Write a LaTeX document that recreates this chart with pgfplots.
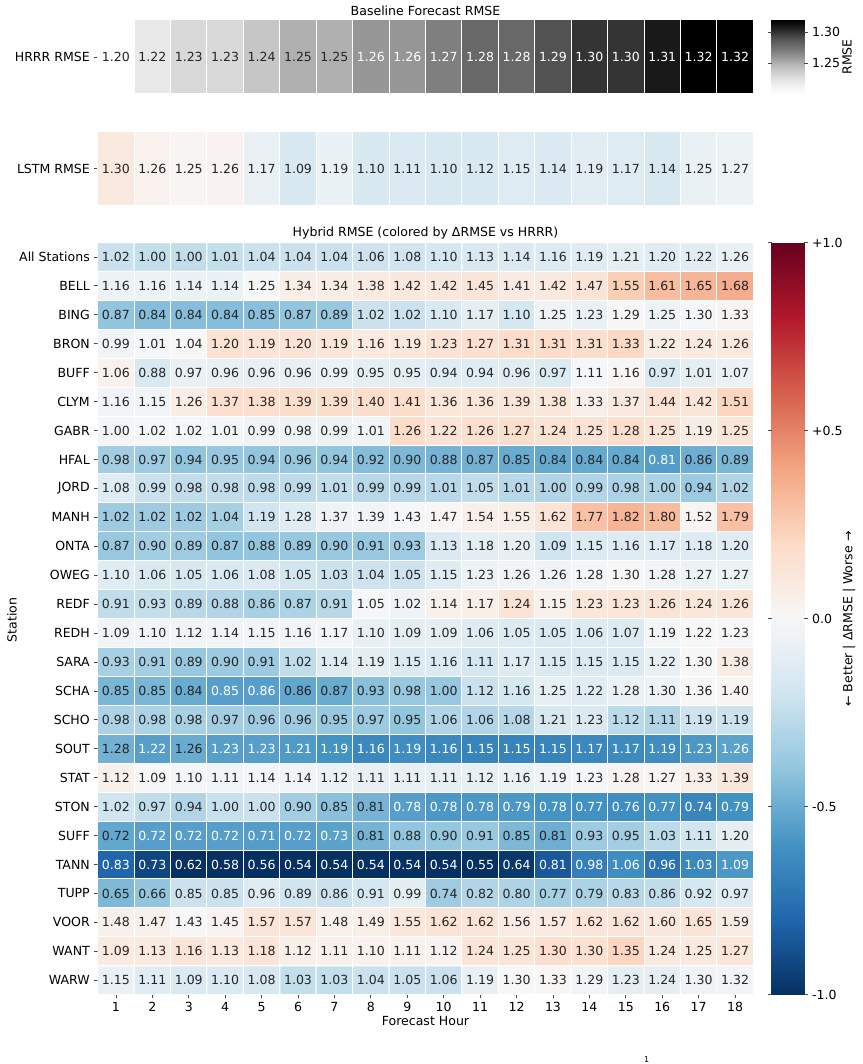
\documentclass[border=0pt]{standalone}
\usepackage{fontspec}
\setmainfont{DejaVu Sans}
\usepackage{pgfplots}
\usepackage{pgfplotstable}
\pgfplotsset{compat=1.18}
\definecolor{txt}{RGB}{38,38,38}
\definecolor{tickc}{RGB}{70,70,70}
\pgfplotsset{
  /pgf/number format/assume math mode=true,
  colormap={rdbu}{rgb255(0cm)=(5,48,97) rgb255(1cm)=(33,102,172) rgb255(2cm)=(67,147,195) rgb255(3cm)=(146,197,222) rgb255(4cm)=(209,229,240) rgb255(5cm)=(247,247,247) rgb255(6cm)=(253,219,199) rgb255(7cm)=(244,165,130) rgb255(8cm)=(214,96,77) rgb255(9cm)=(178,24,43) rgb255(10cm)=(103,0,31)},
  colormap={greys}{rgb255(0cm)=(255,255,255) rgb255(1cm)=(240,240,240) rgb255(2cm)=(217,217,217) rgb255(3cm)=(189,189,189) rgb255(4cm)=(150,150,150) rgb255(5cm)=(115,115,115) rgb255(6cm)=(82,82,82) rgb255(7cm)=(37,37,37) rgb255(8cm)=(0,0,0)},
  hm/.style={scale only axis, width=491.7pt, xmin=0.5, xmax=18.5, enlargelimits=false,
    axis line style={draw=none}, tick align=outside, major tick length=2.6pt,
    tick style={color=tickc, line width=0.6pt}, xtick pos=bottom, ytick pos=left,
    yticklabel style={text=black}, xticklabel style={text=black}},
  cb/.style={at={(parent axis.north east)}, anchor=north west, xshift=13.8pt, width=24.45pt,
    scale only axis, axis line style={draw=none}, tick align=outside, major tick length=2.6pt,
    tick style={color=tickc, line width=0.6pt}, yticklabel style={text=black}},
  lab/.style={only marks, mark=none, point meta=explicit symbolic, nodes near coords,
    unbounded coords=discard,
    every node near coord/.append style={anchor=center, inner sep=0pt, text=#1}},
}
\pgfdeclareplotmark{hcell}{\pgfpathrectangle{\pgfpoint{-13.66pt}{-27.75pt}}{\pgfpoint{27.32pt}{55.5pt}}\pgfusepathqfillstroke}

\pgfplotstableread[row sep=\\]{
x y v\\
1 0 1.20\\ 2 0 1.22\\ 3 0 1.23\\ 4 0 1.23\\ 5 0 1.24\\ 6 0 1.25\\ 7 0 1.25\\ 8 0 1.26\\ 9 0 1.26\\ 10 0 1.27\\ 11 0 1.28\\ 12 0 1.28\\ 13 0 1.29\\ 14 0 1.30\\ 15 0 1.30\\ 16 0 1.31\\ 17 0 1.32\\ 18 0 1.32\\
}\hrrr

\pgfplotstableread[row sep=\\]{
x y v d\\
1 0 1.30 0.10\\ 2 0 1.26 0.04\\ 3 0 1.25 0.02\\ 4 0 1.26 0.03\\ 5 0 1.17 -0.07\\ 6 0 1.09 -0.16\\ 7 0 1.19 -0.06\\ 8 0 1.10 -0.16\\ 9 0 1.11 -0.15\\ 10 0 1.10 -0.17\\ 11 0 1.12 -0.16\\ 12 0 1.15 -0.13\\ 13 0 1.14 -0.15\\ 14 0 1.19 -0.11\\ 15 0 1.17 -0.13\\ 16 0 1.14 -0.17\\ 17 0 1.25 -0.07\\ 18 0 1.27 -0.05\\
}\lstm

\pgfplotstableread[row sep=\\]{
x y v d\\
1 0 1.02 -0.22\\ 2 0 1.00 -0.24\\ 3 0 1.00 -0.25\\ 4 0 1.01 -0.24\\ 5 0 1.04 -0.22\\ 6 0 1.04 -0.22\\ 7 0 1.04 -0.22\\ 8 0 1.06 -0.21\\ 9 0 1.08 -0.20\\ 10 0 1.10 -0.18\\ 11 0 1.13 -0.16\\ 12 0 1.14 -0.15\\ 13 0 1.16 -0.14\\ 14 0 1.19 -0.12\\ 15 0 1.21 -0.10\\ 16 0 1.20 -0.12\\ 17 0 1.22 -0.11\\ 18 0 1.26 -0.07\\
1 1 1.16 -0.05\\ 2 1 1.16 -0.05\\ 3 1 1.14 -0.06\\ 4 1 1.14 -0.06\\ 5 1 1.25 0.00\\ 6 1 1.34 0.07\\ 7 1 1.34 0.07\\ 8 1 1.38 0.09\\ 9 1 1.42 0.11\\ 10 1 1.42 0.11\\ 11 1 1.45 0.13\\ 12 1 1.41 0.09\\ 13 1 1.42 0.10\\ 14 1 1.47 0.14\\ 15 1 1.55 0.25\\ 16 1 1.61 0.31\\ 17 1 1.65 0.34\\ 18 1 1.68 0.37\\
1 2 0.87 -0.40\\ 2 2 0.84 -0.43\\ 3 2 0.84 -0.43\\ 4 2 0.84 -0.43\\ 5 2 0.85 -0.42\\ 6 2 0.87 -0.40\\ 7 2 0.89 -0.38\\ 8 2 1.02 -0.22\\ 9 2 1.02 -0.22\\ 10 2 1.10 -0.16\\ 11 2 1.17 -0.10\\ 12 2 1.10 -0.18\\ 13 2 1.25 -0.04\\ 14 2 1.23 -0.07\\ 15 2 1.29 0.00\\ 16 2 1.25 -0.05\\ 17 2 1.30 -0.01\\ 18 2 1.33 0.02\\
1 3 0.99 -0.03\\ 2 3 1.01 -0.01\\ 3 3 1.04 0.00\\ 4 3 1.20 0.15\\ 5 3 1.19 0.13\\ 6 3 1.20 0.14\\ 7 3 1.19 0.12\\ 8 3 1.16 0.09\\ 9 3 1.19 0.11\\ 10 3 1.23 0.14\\ 11 3 1.27 0.16\\ 12 3 1.31 0.19\\ 13 3 1.31 0.19\\ 14 3 1.31 0.18\\ 15 3 1.33 0.21\\ 16 3 1.22 0.08\\ 17 3 1.24 0.09\\ 18 3 1.26 0.10\\
1 4 1.06 0.04\\ 2 4 0.88 -0.16\\ 3 4 0.97 -0.07\\ 4 4 0.96 -0.08\\ 5 4 0.96 -0.08\\ 6 4 0.96 -0.08\\ 7 4 0.99 -0.06\\ 8 4 0.95 -0.10\\ 9 4 0.95 -0.10\\ 10 4 0.94 -0.12\\ 11 4 0.94 -0.12\\ 12 4 0.96 -0.11\\ 13 4 0.97 -0.14\\ 14 4 1.11 -0.01\\ 15 4 1.16 0.01\\ 16 4 0.97 -0.15\\ 17 4 1.01 -0.10\\ 18 4 1.07 -0.06\\
1 5 1.16 -0.03\\ 2 5 1.15 -0.03\\ 3 5 1.26 0.07\\ 4 5 1.37 0.17\\ 5 5 1.38 0.17\\ 6 5 1.39 0.18\\ 7 5 1.39 0.18\\ 8 5 1.40 0.18\\ 9 5 1.41 0.18\\ 10 5 1.36 0.12\\ 11 5 1.36 0.12\\ 12 5 1.39 0.13\\ 13 5 1.38 0.12\\ 14 5 1.33 0.06\\ 15 5 1.37 0.10\\ 16 5 1.44 0.15\\ 17 5 1.42 0.13\\ 18 5 1.51 0.22\\
1 6 1.00 -0.02\\ 2 6 1.02 -0.01\\ 3 6 1.02 -0.01\\ 4 6 1.01 -0.02\\ 5 6 0.99 -0.04\\ 6 6 0.98 -0.05\\ 7 6 0.99 -0.05\\ 8 6 1.01 -0.03\\ 9 6 1.26 0.19\\ 10 6 1.22 0.14\\ 11 6 1.26 0.17\\ 12 6 1.27 0.18\\ 13 6 1.24 0.15\\ 14 6 1.25 0.15\\ 15 6 1.28 0.18\\ 16 6 1.25 0.14\\ 17 6 1.19 0.08\\ 18 6 1.25 0.13\\
1 7 0.98 -0.35\\ 2 7 0.97 -0.36\\ 3 7 0.94 -0.40\\ 4 7 0.95 -0.38\\ 5 7 0.94 -0.40\\ 6 7 0.96 -0.38\\ 7 7 0.94 -0.40\\ 8 7 0.92 -0.43\\ 9 7 0.90 -0.45\\ 10 7 0.88 -0.47\\ 11 7 0.87 -0.48\\ 12 7 0.85 -0.50\\ 13 7 0.84 -0.51\\ 14 7 0.84 -0.51\\ 15 7 0.84 -0.51\\ 16 7 0.81 -0.56\\ 17 7 0.86 -0.49\\ 18 7 0.89 -0.46\\
1 8 1.08 -0.12\\ 2 8 0.99 -0.22\\ 3 8 0.98 -0.25\\ 4 8 0.98 -0.25\\ 5 8 0.98 -0.26\\ 6 8 0.99 -0.26\\ 7 8 1.01 -0.25\\ 8 8 0.99 -0.28\\ 9 8 0.99 -0.28\\ 10 8 1.01 -0.28\\ 11 8 1.05 -0.25\\ 12 8 1.01 -0.28\\ 13 8 1.00 -0.30\\ 14 8 0.99 -0.30\\ 15 8 0.98 -0.32\\ 16 8 1.00 -0.32\\ 17 8 0.94 -0.37\\ 18 8 1.02 -0.30\\
1 9 1.02 -0.36\\ 2 9 1.02 -0.36\\ 3 9 1.02 -0.36\\ 4 9 1.04 -0.34\\ 5 9 1.19 -0.20\\ 6 9 1.28 -0.12\\ 7 9 1.37 -0.04\\ 8 9 1.39 -0.03\\ 9 9 1.43 -0.01\\ 10 9 1.47 0.01\\ 11 9 1.54 0.06\\ 12 9 1.55 0.07\\ 13 9 1.62 0.14\\ 14 9 1.77 0.30\\ 15 9 1.82 0.34\\ 16 9 1.80 0.32\\ 17 9 1.52 0.02\\ 18 9 1.79 0.30\\
1 10 0.87 -0.38\\ 2 10 0.90 -0.35\\ 3 10 0.89 -0.36\\ 4 10 0.87 -0.40\\ 5 10 0.88 -0.40\\ 6 10 0.89 -0.38\\ 7 10 0.90 -0.38\\ 8 10 0.91 -0.38\\ 9 10 0.93 -0.36\\ 10 10 1.13 -0.15\\ 11 10 1.18 -0.10\\ 12 10 1.20 -0.09\\ 13 10 1.09 -0.20\\ 14 10 1.15 -0.14\\ 15 10 1.16 -0.13\\ 16 10 1.17 -0.13\\ 17 10 1.18 -0.13\\ 18 10 1.20 -0.12\\
1 11 1.10 -0.12\\ 2 11 1.06 -0.16\\ 3 11 1.05 -0.17\\ 4 11 1.06 -0.16\\ 5 11 1.08 -0.15\\ 6 11 1.05 -0.19\\ 7 11 1.03 -0.22\\ 8 11 1.04 -0.21\\ 9 11 1.05 -0.21\\ 10 11 1.15 -0.12\\ 11 11 1.23 -0.05\\ 12 11 1.26 -0.03\\ 13 11 1.26 -0.04\\ 14 11 1.28 -0.02\\ 15 11 1.30 0.00\\ 16 11 1.28 -0.03\\ 17 11 1.27 -0.05\\ 18 11 1.27 -0.05\\
1 12 0.91 -0.25\\ 2 12 0.93 -0.24\\ 3 12 0.89 -0.28\\ 4 12 0.88 -0.30\\ 5 12 0.86 -0.33\\ 6 12 0.87 -0.32\\ 7 12 0.91 -0.28\\ 8 12 1.05 -0.01\\ 9 12 1.02 -0.04\\ 10 12 1.14 0.05\\ 11 12 1.17 0.06\\ 12 12 1.24 0.14\\ 13 12 1.15 0.05\\ 14 12 1.23 0.12\\ 15 12 1.23 0.12\\ 16 12 1.26 0.14\\ 17 12 1.24 0.12\\ 18 12 1.26 0.13\\
1 13 1.09 -0.03\\ 2 13 1.10 -0.03\\ 3 13 1.12 -0.03\\ 4 13 1.14 -0.03\\ 5 13 1.15 -0.03\\ 6 13 1.16 -0.03\\ 7 13 1.17 -0.02\\ 8 13 1.10 -0.08\\ 9 13 1.09 -0.10\\ 10 13 1.09 -0.10\\ 11 13 1.06 -0.13\\ 12 13 1.05 -0.14\\ 13 13 1.05 -0.15\\ 14 13 1.06 -0.14\\ 15 13 1.07 -0.14\\ 16 13 1.19 -0.02\\ 17 13 1.22 0.00\\ 18 13 1.23 0.00\\
1 14 0.93 -0.33\\ 2 14 0.91 -0.35\\ 3 14 0.89 -0.38\\ 4 14 0.90 -0.37\\ 5 14 0.91 -0.37\\ 6 14 1.02 -0.25\\ 7 14 1.14 -0.13\\ 8 14 1.19 -0.10\\ 9 14 1.15 -0.14\\ 10 14 1.16 -0.14\\ 11 14 1.11 -0.18\\ 12 14 1.17 -0.13\\ 13 14 1.15 -0.15\\ 14 14 1.15 -0.15\\ 15 14 1.15 -0.15\\ 16 14 1.22 -0.08\\ 17 14 1.30 0.00\\ 18 14 1.38 0.08\\
1 15 0.85 -0.46\\ 2 15 0.85 -0.46\\ 3 15 0.84 -0.50\\ 4 15 0.85 -0.55\\ 5 15 0.86 -0.55\\ 6 15 0.86 -0.52\\ 7 15 0.87 -0.50\\ 8 15 0.93 -0.42\\ 9 15 0.98 -0.38\\ 10 15 1.00 -0.38\\ 11 15 1.12 -0.22\\ 12 15 1.16 -0.18\\ 13 15 1.25 -0.09\\ 14 15 1.22 -0.12\\ 15 15 1.28 -0.06\\ 16 15 1.30 -0.04\\ 17 15 1.36 0.00\\ 18 15 1.40 0.02\\
1 16 0.98 -0.32\\ 2 16 0.98 -0.32\\ 3 16 0.98 -0.33\\ 4 16 0.97 -0.35\\ 5 16 0.96 -0.36\\ 6 16 0.96 -0.36\\ 7 16 0.95 -0.38\\ 8 16 0.97 -0.37\\ 9 16 0.95 -0.40\\ 10 16 1.06 -0.30\\ 11 16 1.06 -0.30\\ 12 16 1.08 -0.29\\ 13 16 1.21 -0.17\\ 14 16 1.23 -0.15\\ 15 16 1.12 -0.27\\ 16 16 1.11 -0.30\\ 17 16 1.19 -0.21\\ 18 16 1.19 -0.21\\
1 17 1.28 -0.48\\ 2 17 1.22 -0.55\\ 3 17 1.26 -0.50\\ 4 17 1.23 -0.55\\ 5 17 1.23 -0.55\\ 6 17 1.21 -0.57\\ 7 17 1.19 -0.60\\ 8 17 1.16 -0.65\\ 9 17 1.19 -0.62\\ 10 17 1.16 -0.65\\ 11 17 1.15 -0.67\\ 12 17 1.15 -0.67\\ 13 17 1.15 -0.67\\ 14 17 1.17 -0.65\\ 15 17 1.17 -0.64\\ 16 17 1.19 -0.62\\ 17 17 1.23 -0.58\\ 18 17 1.26 -0.54\\
1 18 1.12 0.05\\ 2 18 1.09 0.00\\ 3 18 1.10 -0.02\\ 4 18 1.11 -0.03\\ 5 18 1.14 -0.02\\ 6 18 1.14 -0.03\\ 7 18 1.12 -0.06\\ 8 18 1.11 -0.08\\ 9 18 1.11 -0.08\\ 10 18 1.11 -0.09\\ 11 18 1.12 -0.09\\ 12 18 1.16 -0.06\\ 13 18 1.19 -0.04\\ 14 18 1.23 -0.01\\ 15 18 1.28 0.03\\ 16 18 1.27 0.01\\ 17 18 1.33 0.06\\ 18 18 1.39 0.11\\
1 19 1.02 -0.20\\ 2 19 0.97 -0.25\\ 3 19 0.94 -0.30\\ 4 19 1.00 -0.23\\ 5 19 1.00 -0.22\\ 6 19 0.90 -0.35\\ 7 19 0.85 -0.42\\ 8 19 0.81 -0.47\\ 9 19 0.78 -0.55\\ 10 19 0.78 -0.58\\ 11 19 0.78 -0.58\\ 12 19 0.79 -0.58\\ 13 19 0.78 -0.60\\ 14 19 0.77 -0.61\\ 15 19 0.76 -0.62\\ 16 19 0.77 -0.61\\ 17 19 0.74 -0.66\\ 18 19 0.79 -0.61\\
1 20 0.72 -0.52\\ 2 20 0.72 -0.55\\ 3 20 0.72 -0.55\\ 4 20 0.72 -0.55\\ 5 20 0.71 -0.56\\ 6 20 0.72 -0.55\\ 7 20 0.73 -0.54\\ 8 20 0.81 -0.47\\ 9 20 0.88 -0.40\\ 10 20 0.90 -0.39\\ 11 20 0.91 -0.38\\ 12 20 0.85 -0.45\\ 13 20 0.81 -0.49\\ 14 20 0.93 -0.36\\ 15 20 0.95 -0.35\\ 16 20 1.03 -0.27\\ 17 20 1.11 -0.20\\ 18 20 1.20 -0.10\\
1 21 0.83 -0.80\\ 2 21 0.73 -0.92\\ 3 21 0.62 -1.00\\ 4 21 0.58 -1.00\\ 5 21 0.56 -1.00\\ 6 21 0.54 -1.00\\ 7 21 0.54 -1.00\\ 8 21 0.54 -1.00\\ 9 21 0.54 -1.00\\ 10 21 0.54 -1.00\\ 11 21 0.55 -1.00\\ 12 21 0.64 -0.97\\ 13 21 0.81 -0.85\\ 14 21 0.98 -0.69\\ 15 21 1.06 -0.62\\ 16 21 0.96 -0.74\\ 17 21 1.03 -0.65\\ 18 21 1.09 -0.58\\
1 22 0.65 -0.45\\ 2 22 0.66 -0.40\\ 3 22 0.85 -0.22\\ 4 22 0.85 -0.22\\ 5 22 0.96 -0.13\\ 6 22 0.89 -0.20\\ 7 22 0.86 -0.22\\ 8 22 0.91 -0.18\\ 9 22 0.99 -0.10\\ 10 22 0.74 -0.36\\ 11 22 0.82 -0.30\\ 12 22 0.80 -0.31\\ 13 22 0.77 -0.34\\ 14 22 0.79 -0.32\\ 15 22 0.83 -0.28\\ 16 22 0.86 -0.25\\ 17 22 0.92 -0.18\\ 18 22 0.97 -0.13\\
1 23 1.48 0.05\\ 2 23 1.47 0.05\\ 3 23 1.43 0.00\\ 4 23 1.45 0.03\\ 5 23 1.57 0.13\\ 6 23 1.57 0.13\\ 7 23 1.48 0.05\\ 8 23 1.49 0.06\\ 9 23 1.55 0.11\\ 10 23 1.62 0.14\\ 11 23 1.62 0.13\\ 12 23 1.56 0.08\\ 13 23 1.57 0.09\\ 14 23 1.62 0.13\\ 15 23 1.62 0.13\\ 16 23 1.60 0.11\\ 17 23 1.65 0.14\\ 18 23 1.59 0.08\\
1 24 1.09 0.09\\ 2 24 1.13 0.10\\ 3 24 1.16 0.13\\ 4 24 1.13 0.10\\ 5 24 1.18 0.13\\ 6 24 1.12 0.06\\ 7 24 1.11 0.05\\ 8 24 1.10 0.04\\ 9 24 1.11 0.04\\ 10 24 1.12 0.03\\ 11 24 1.24 0.13\\ 12 24 1.25 0.13\\ 13 24 1.30 0.17\\ 14 24 1.30 0.16\\ 15 24 1.35 0.22\\ 16 24 1.24 0.10\\ 17 24 1.25 0.10\\ 18 24 1.27 0.12\\
1 25 1.15 -0.07\\ 2 25 1.11 -0.12\\ 3 25 1.09 -0.15\\ 4 25 1.10 -0.15\\ 5 25 1.08 -0.17\\ 6 25 1.03 -0.24\\ 7 25 1.03 -0.24\\ 8 25 1.04 -0.22\\ 9 25 1.05 -0.22\\ 10 25 1.06 -0.22\\ 11 25 1.19 -0.08\\ 12 25 1.30 0.00\\ 13 25 1.33 0.01\\ 14 25 1.29 -0.03\\ 15 25 1.23 -0.10\\ 16 25 1.24 -0.10\\ 17 25 1.30 -0.04\\ 18 25 1.32 -0.03\\
}\hyb

\begin{document}
\fontsize{9.4}{11.3}\selectfont
\begin{tikzpicture}
% ---------- HRRR row ----------
\begin{axis}[hm, at={(73.275pt,783pt)}, anchor=north west, height=55.5pt,
  ymin=-0.5, ymax=0.5, xtick=\empty, ytick={0}, yticklabels={HRRR RMSE},
  colormap name=greys, point meta min=1.20, point meta max=1.32,
  colorbar right, colorbar/width=24.45pt, colorbar shift/.style={xshift=0pt},
  colorbar style={cb, height=55.5pt, ytick={1.25,1.30}, yticklabels={1.25,1.30}}]
\addplot[scatter, only marks, mark=hcell, mark options={line width=0.75pt},
  scatter/use mapped color={draw=white, fill=mapped color},
  point meta=explicit] table[x=x, y=y, meta=v] {\hrrr};
\addplot[lab=txt, x filter/.expression={\thisrow{v}>1.255 ? nan : x}]
  table[x=x, y=y, meta=v] {\hrrr};
\addplot[lab=white, x filter/.expression={\thisrow{v}>1.255 ? x : nan}]
  table[x=x, y=y, meta=v] {\hrrr};
\end{axis}
% ---------- LSTM row ----------
\begin{axis}[hm, at={(73.275pt,699.225pt)}, anchor=north west, height=55.5pt,
  ymin=-0.5, ymax=0.5, xtick=\empty, ytick={0}, yticklabels={LSTM RMSE},
  colormap name=rdbu, point meta min=-1, point meta max=1]
\addplot[scatter, only marks, mark=hcell, mark options={line width=0.75pt},
  scatter/use mapped color={draw=white, fill=mapped color},
  point meta=explicit] table[x=x, y=y, meta=d] {\lstm};
\addplot[lab=txt] table[x=x, y=y, meta=v] {\lstm};
\end{axis}
% ---------- Hybrid heatmap ----------
\begin{axis}[hm, at={(73.275pt,616.125pt)}, anchor=north west, height=564.15pt,
  ymin=-0.5, ymax=25.5, y dir=reverse,
  xtick={1,...,18}, xticklabels={1,2,3,4,5,6,7,8,9,10,11,12,13,14,15,16,17,18},
  ytick={0,...,25},
  yticklabels={All Stations,BELL,BING,BRON,BUFF,CLYM,GABR,HFAL,JORD,MANH,ONTA,OWEG,REDF,REDH,SARA,SCHA,SCHO,SOUT,STAT,STON,SUFF,TANN,TUPP,VOOR,WANT,WARW},
  colormap name=rdbu, point meta min=-1, point meta max=1,
  colorbar right, colorbar/width=24.45pt, colorbar shift/.style={xshift=0pt},
  colorbar style={cb, height=564.15pt, ytick={-1,-0.5,0,0.5,1}, yticklabels={-1.0,-0.5,0.0,+0.5,+1.0}}]
\addplot[matrix plot*, mesh/cols=18, mesh/ordering=x varies, draw=white, line width=0.75pt,
  point meta=explicit] table[x=x, y=y, meta=d] {\hyb};
\addplot[lab=txt, x filter/.expression={\thisrow{d}<-0.53 ? nan : x}]
  table[x=x, y=y, meta=v] {\hyb};
\addplot[lab=white, x filter/.expression={\thisrow{d}<-0.53 ? x : nan}]
  table[x=x, y=y, meta=v] {\hyb};
\end{axis}
% ---------- free text ----------
\begin{scope}[x=0.75pt, y=-0.75pt, yshift=798pt]
\node at (425.5,11) {Baseline Forecast RMSE};
\node at (425.5,233) {Hybrid RMSE (colored by ΔRMSE vs HRRR)};
\node at (425.5,1021) {Forecast Hour};
\node[rotate=90] at (12,620) {Station};
\node[rotate=90] at (847,57) {RMSE};
\node[rotate=90] at (849,619) {← Better | ΔRMSE | Worse →};
\node[font=\fontsize{6}{7}\selectfont, anchor=south, inner sep=0.5pt] at (646.7,1063.5) {1};
\end{scope}
\pgfresetboundingbox
\path[use as bounding box] (0,0) rectangle (647.25pt,798pt);
\end{tikzpicture}
\end{document}
